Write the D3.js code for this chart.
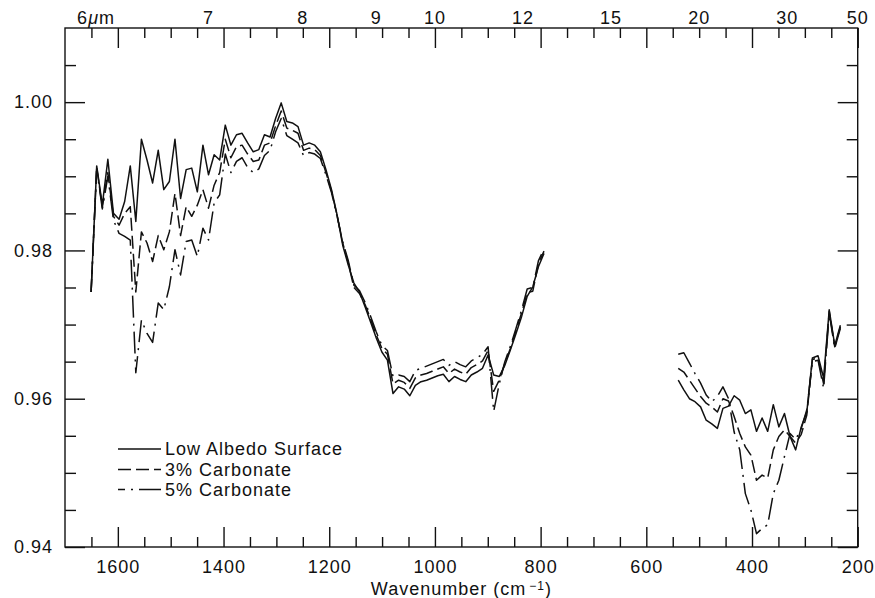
<!DOCTYPE html>
<html>
<head>
<meta charset="utf-8">
<script src="https://cdn.jsdelivr.net/npm/d3@7"></script>
<style>
  html, body { margin: 0; padding: 0; background: #fff; }
  svg { display: block; }
  text { font-family: "Liberation Sans", Arial, Helvetica, sans-serif; fill: #111; letter-spacing: 1px; }
</style>
</head>
<body>
<svg id="chart" width="875" height="598"></svg>
<script>
// ---------------- DATA ----------------
// Segment A (1650 - 794 cm^-1)
const wnA = [1650.6, 1640.0, 1629.4, 1618.9, 1608.3, 1597.7, 1587.1, 1576.5, 1566.0, 1555.4,
  1544.8, 1534.2, 1523.6, 1513.1, 1502.5, 1491.9, 1481.3, 1470.7, 1460.2, 1449.6,
  1439.0, 1428.4, 1417.8, 1407.3, 1396.7, 1386.1, 1375.5, 1364.9, 1354.4, 1343.8,
  1333.2, 1322.6, 1312.0, 1301.5, 1290.9, 1280.3, 1269.7, 1259.1, 1248.6, 1238.0,
  1227.4, 1216.8, 1206.2, 1195.7, 1185.1, 1174.5, 1163.9, 1153.3, 1142.8, 1132.2,
  1121.6, 1111.0, 1100.4, 1089.9, 1079.3, 1068.7, 1058.1, 1047.5, 1037.0, 1026.4,
  1015.8, 1005.2, 994.6, 984.1, 973.5, 962.9, 952.3, 941.7, 931.2, 920.6,
  910.0, 899.4, 888.8, 878.3, 867.7, 857.1, 846.5, 835.9, 825.4, 814.8,
  804.2, 793.6];
const lowA = [0.9744, 0.9914, 0.9861, 0.9923, 0.9850, 0.9842, 0.9866, 0.9914, 0.9839, 0.9950,
  0.9922, 0.9891, 0.9935, 0.9882, 0.9893, 0.9950, 0.9870, 0.9909, 0.9911, 0.9879,
  0.9942, 0.9902, 0.9929, 0.9922, 0.9969, 0.9942, 0.9956, 0.9958, 0.9945, 0.9933,
  0.9936, 0.9956, 0.9953, 0.9978, 0.9999, 0.9974, 0.9972, 0.9967, 0.9942, 0.9945,
  0.9942, 0.9933, 0.9909, 0.9882, 0.9848, 0.9807, 0.9780, 0.9756, 0.9744, 0.9724,
  0.9703, 0.9682, 0.9663, 0.9652, 0.9607, 0.9616, 0.9613, 0.9604, 0.9618, 0.9623,
  0.9625, 0.9628, 0.9631, 0.9633, 0.9623, 0.9630, 0.9626, 0.9623, 0.9632, 0.9636,
  0.9641, 0.9659, 0.9632, 0.9630, 0.9645, 0.9666, 0.9688, 0.9711, 0.9738, 0.9751,
  0.9778, 0.9796];
const c3A = [0.9744, 0.9912, 0.9858, 0.9905, 0.9846, 0.9834, 0.9850, 0.9859, 0.9744, 0.9825,
  0.9810, 0.9785, 0.9820, 0.9801, 0.9825, 0.9877, 0.9820, 0.9859, 0.9846, 0.9861,
  0.9882, 0.9857, 0.9888, 0.9905, 0.9950, 0.9925, 0.9940, 0.9942, 0.9930, 0.9920,
  0.9922, 0.9942, 0.9945, 0.9968, 0.9988, 0.9965, 0.9962, 0.9958, 0.9935, 0.9938,
  0.9936, 0.9928, 0.9905, 0.9880, 0.9847, 0.9810, 0.9783, 0.9750, 0.9742, 0.9727,
  0.9707, 0.9686, 0.9668, 0.9660, 0.9620, 0.9625, 0.9622, 0.9614, 0.9628, 0.9632,
  0.9634, 0.9637, 0.9640, 0.9643, 0.9634, 0.9640, 0.9636, 0.9633, 0.9642, 0.9646,
  0.9651, 0.9665, 0.9610, 0.9625, 0.9648, 0.9668, 0.9692, 0.9716, 0.9743, 0.9745,
  0.9782, 0.9799];
const c5A = [0.9744, 0.9910, 0.9856, 0.9900, 0.9841, 0.9823, 0.9819, 0.9814, 0.9635, 0.9706,
  0.9688, 0.9676, 0.9729, 0.9720, 0.9751, 0.9801, 0.9767, 0.9812, 0.9814, 0.9792,
  0.9830, 0.9814, 0.9864, 0.9875, 0.9930, 0.9905, 0.9920, 0.9925, 0.9912, 0.9905,
  0.9910, 0.9928, 0.9935, 0.9960, 0.9978, 0.9955, 0.9950, 0.9945, 0.9928, 0.9932,
  0.9930, 0.9924, 0.9902, 0.9878, 0.9846, 0.9812, 0.9786, 0.9753, 0.9746, 0.9730,
  0.9711, 0.9690, 0.9672, 0.9665, 0.9630, 0.9632, 0.9630, 0.9623, 0.9638, 0.9641,
  0.9644, 0.9647, 0.9650, 0.9653, 0.9645, 0.9650, 0.9646, 0.9643, 0.9651, 0.9655,
  0.9660, 0.9670, 0.9583, 0.9620, 0.9650, 0.9671, 0.9695, 0.9720, 0.9748, 0.9750,
  0.9786, 0.9802];

// Segment B (540 - 233 cm^-1)
const wnB = [539.6, 529.0, 518.4, 507.9, 497.3, 486.7, 476.1, 465.5, 455.0, 444.4,
  433.8, 423.2, 412.6, 402.1, 391.5, 380.9, 370.3, 359.7, 349.2, 338.6,
  328.0, 317.4, 306.8, 296.3, 285.7, 275.1, 264.5, 253.9, 243.4, 232.8];
const lowB = [0.9625, 0.9612, 0.9600, 0.9596, 0.9589, 0.9571, 0.9566, 0.9560, 0.9587, 0.9590,
  0.9604, 0.9598, 0.9580, 0.9585, 0.9556, 0.9574, 0.9556, 0.9592, 0.9562, 0.9580,
  0.9549, 0.9531, 0.9562, 0.9582, 0.9655, 0.9658, 0.9628, 0.9720, 0.9672, 0.9699];
const c3B = [0.9641, 0.9636, 0.9625, 0.9614, 0.9603, 0.9594, 0.9589, 0.9582, 0.9600, 0.9597,
  0.9576, 0.9553, 0.9535, 0.9524, 0.9490, 0.9497, 0.9493, 0.9531, 0.9549, 0.9558,
  0.9549, 0.9540, 0.9552, 0.9578, 0.9653, 0.9655, 0.9620, 0.9718, 0.9670, 0.9697];
const c5B = [0.9660, 0.9662, 0.9648, 0.9634, 0.9621, 0.9605, 0.9596, 0.9603, 0.9616, 0.9600,
  0.9555, 0.9531, 0.9472, 0.9450, 0.9418, 0.9425, 0.9430, 0.9472, 0.9490, 0.9522,
  0.9553, 0.9545, 0.9560, 0.9585, 0.9650, 0.9652, 0.9614, 0.9715, 0.9668, 0.9695];

const seriesNames = ["Low Albedo Surface", "3% Carbonate", "5% Carbonate"];
const xTickLabels = [1600, 1400, 1200, 1000, 800, 600, 400, 200];
const yTickLabels = [0.94, 0.96, 0.98, 1.00];
const topWavelengths = [6, 7, 8, 9, 10, 12, 15, 20, 30, 50];

// ---------------- LAYOUT ----------------
const L = 65, R = 857.7, T = 28, B = 547;
const svg = d3.select("#chart");
const x = d3.scaleLinear().domain([1700, 200]).range([L, R]);
const y = d3.scaleLinear().domain([0.94, 1.01]).range([B, T]);

const xMinor = d3.range(5, 34).map(k => k * 50).filter(v => v % 200 !== 0);
const yMinor = d3.range(189, 202).filter(k => k % 4 !== 0).map(k => k * 0.005);

function styleAxis(g) {
  g.select(".domain").remove();
  g.selectAll("line").attr("stroke", "#111").attr("stroke-width", 1.4);
  g.selectAll("text").attr("font-size", 18).style("fill", "#111");
}

// bottom axis
svg.append("g").attr("transform", `translate(0,${B})`)
  .call(d3.axisBottom(x).tickValues(xTickLabels).tickSize(-20).tickPadding(13).tickFormat(d3.format("d")))
  .call(styleAxis);
svg.append("g").attr("transform", `translate(0,${B})`)
  .call(d3.axisBottom(x).tickValues(xMinor).tickSize(-10).tickFormat(""))
  .call(styleAxis);
// top axis (ticks only)
svg.append("g").attr("transform", `translate(0,${T})`)
  .call(d3.axisTop(x).tickValues(xTickLabels).tickSize(-20).tickFormat(""))
  .call(styleAxis);
svg.append("g").attr("transform", `translate(0,${T})`)
  .call(d3.axisTop(x).tickValues(xMinor).tickSize(-10).tickFormat(""))
  .call(styleAxis);
// left axis
svg.append("g").attr("transform", `translate(${L},0)`)
  .call(d3.axisLeft(y).tickValues(yTickLabels).tickSize(-20).tickPadding(12).tickFormat(d3.format(".2f")))
  .call(styleAxis);
svg.append("g").attr("transform", `translate(${L},0)`)
  .call(d3.axisLeft(y).tickValues(yMinor).tickSize(-11).tickFormat(""))
  .call(styleAxis);
// right axis
svg.append("g").attr("transform", `translate(${R},0)`)
  .call(d3.axisRight(y).tickValues(yTickLabels).tickSize(-20).tickFormat(""))
  .call(styleAxis);
svg.append("g").attr("transform", `translate(${R},0)`)
  .call(d3.axisRight(y).tickValues(yMinor).tickSize(-11).tickFormat(""))
  .call(styleAxis);

// frame
svg.append("rect").attr("x", L).attr("y", T).attr("width", R - L).attr("height", B - T)
  .attr("fill", "none").attr("stroke", "#111").attr("stroke-width", 1.4);

// top wavelength labels
topWavelengths.forEach(w => {
  const px = x(10000 / w);
  if (w === 6) {
    const t = svg.append("text").attr("x", px - 5.5).attr("y", 24).attr("font-size", 18)
      .attr("text-anchor", "start");
    t.append("tspan").text("6");
    t.append("tspan").attr("font-style", "italic").text("\u03bc");
    t.append("tspan").text("m");
  } else {
    svg.append("text").attr("x", px).attr("y", 24).attr("font-size", 18)
      .attr("text-anchor", "middle").text(w);
  }
});

// x axis title
const title = svg.append("text").attr("x", (L + R) / 2).attr("y", 595)
  .attr("font-size", 18).attr("text-anchor", "middle");
title.append("tspan").text("Wavenumber (cm");
title.append("tspan").attr("font-size", 12).attr("dy", -5).attr("dx", 3).text("\u22121");
title.append("tspan").attr("dy", 5).text(")");

// ---------------- DATA LINES ----------------
const dashes = [null, "13,5", "22,6,2,6"];
const allSeries = [
  [[wnA, lowA], [wnB, lowB]],
  [[wnA, c3A], [wnB, c3B]],
  [[wnA, c5A], [wnB, c5B]]
];
const line = d3.line().x(d => x(d[0])).y(d => y(d[1]));
const plot = svg.append("g");
allSeries.forEach((segs, i) => {
  segs.forEach(([wn, vals]) => {
    const pts = wn.map((w, k) => [w, vals[k]]);
    plot.append("path").datum(pts).attr("d", line)
      .attr("fill", "none").attr("stroke", "#111").attr("stroke-width", 1.5)
      .attr("stroke-linejoin", "round")
      .attr("stroke-dasharray", dashes[i]);
  });
});

// ---------------- LEGEND ----------------
const legY = [449, 469.5, 489.5];
seriesNames.forEach((name, i) => {
  svg.append("line").attr("x1", 118).attr("x2", 161).attr("y1", legY[i]).attr("y2", legY[i])
    .attr("stroke", "#111").attr("stroke-width", 1.5)
    .attr("stroke-dasharray", dashes[i])
    .attr("stroke-dashoffset", i === 2 ? 15 : 0);
  svg.append("text").attr("x", 165).attr("y", legY[i] + 6).attr("font-size", 18).text(name);
});
</script>
</body>
</html>
